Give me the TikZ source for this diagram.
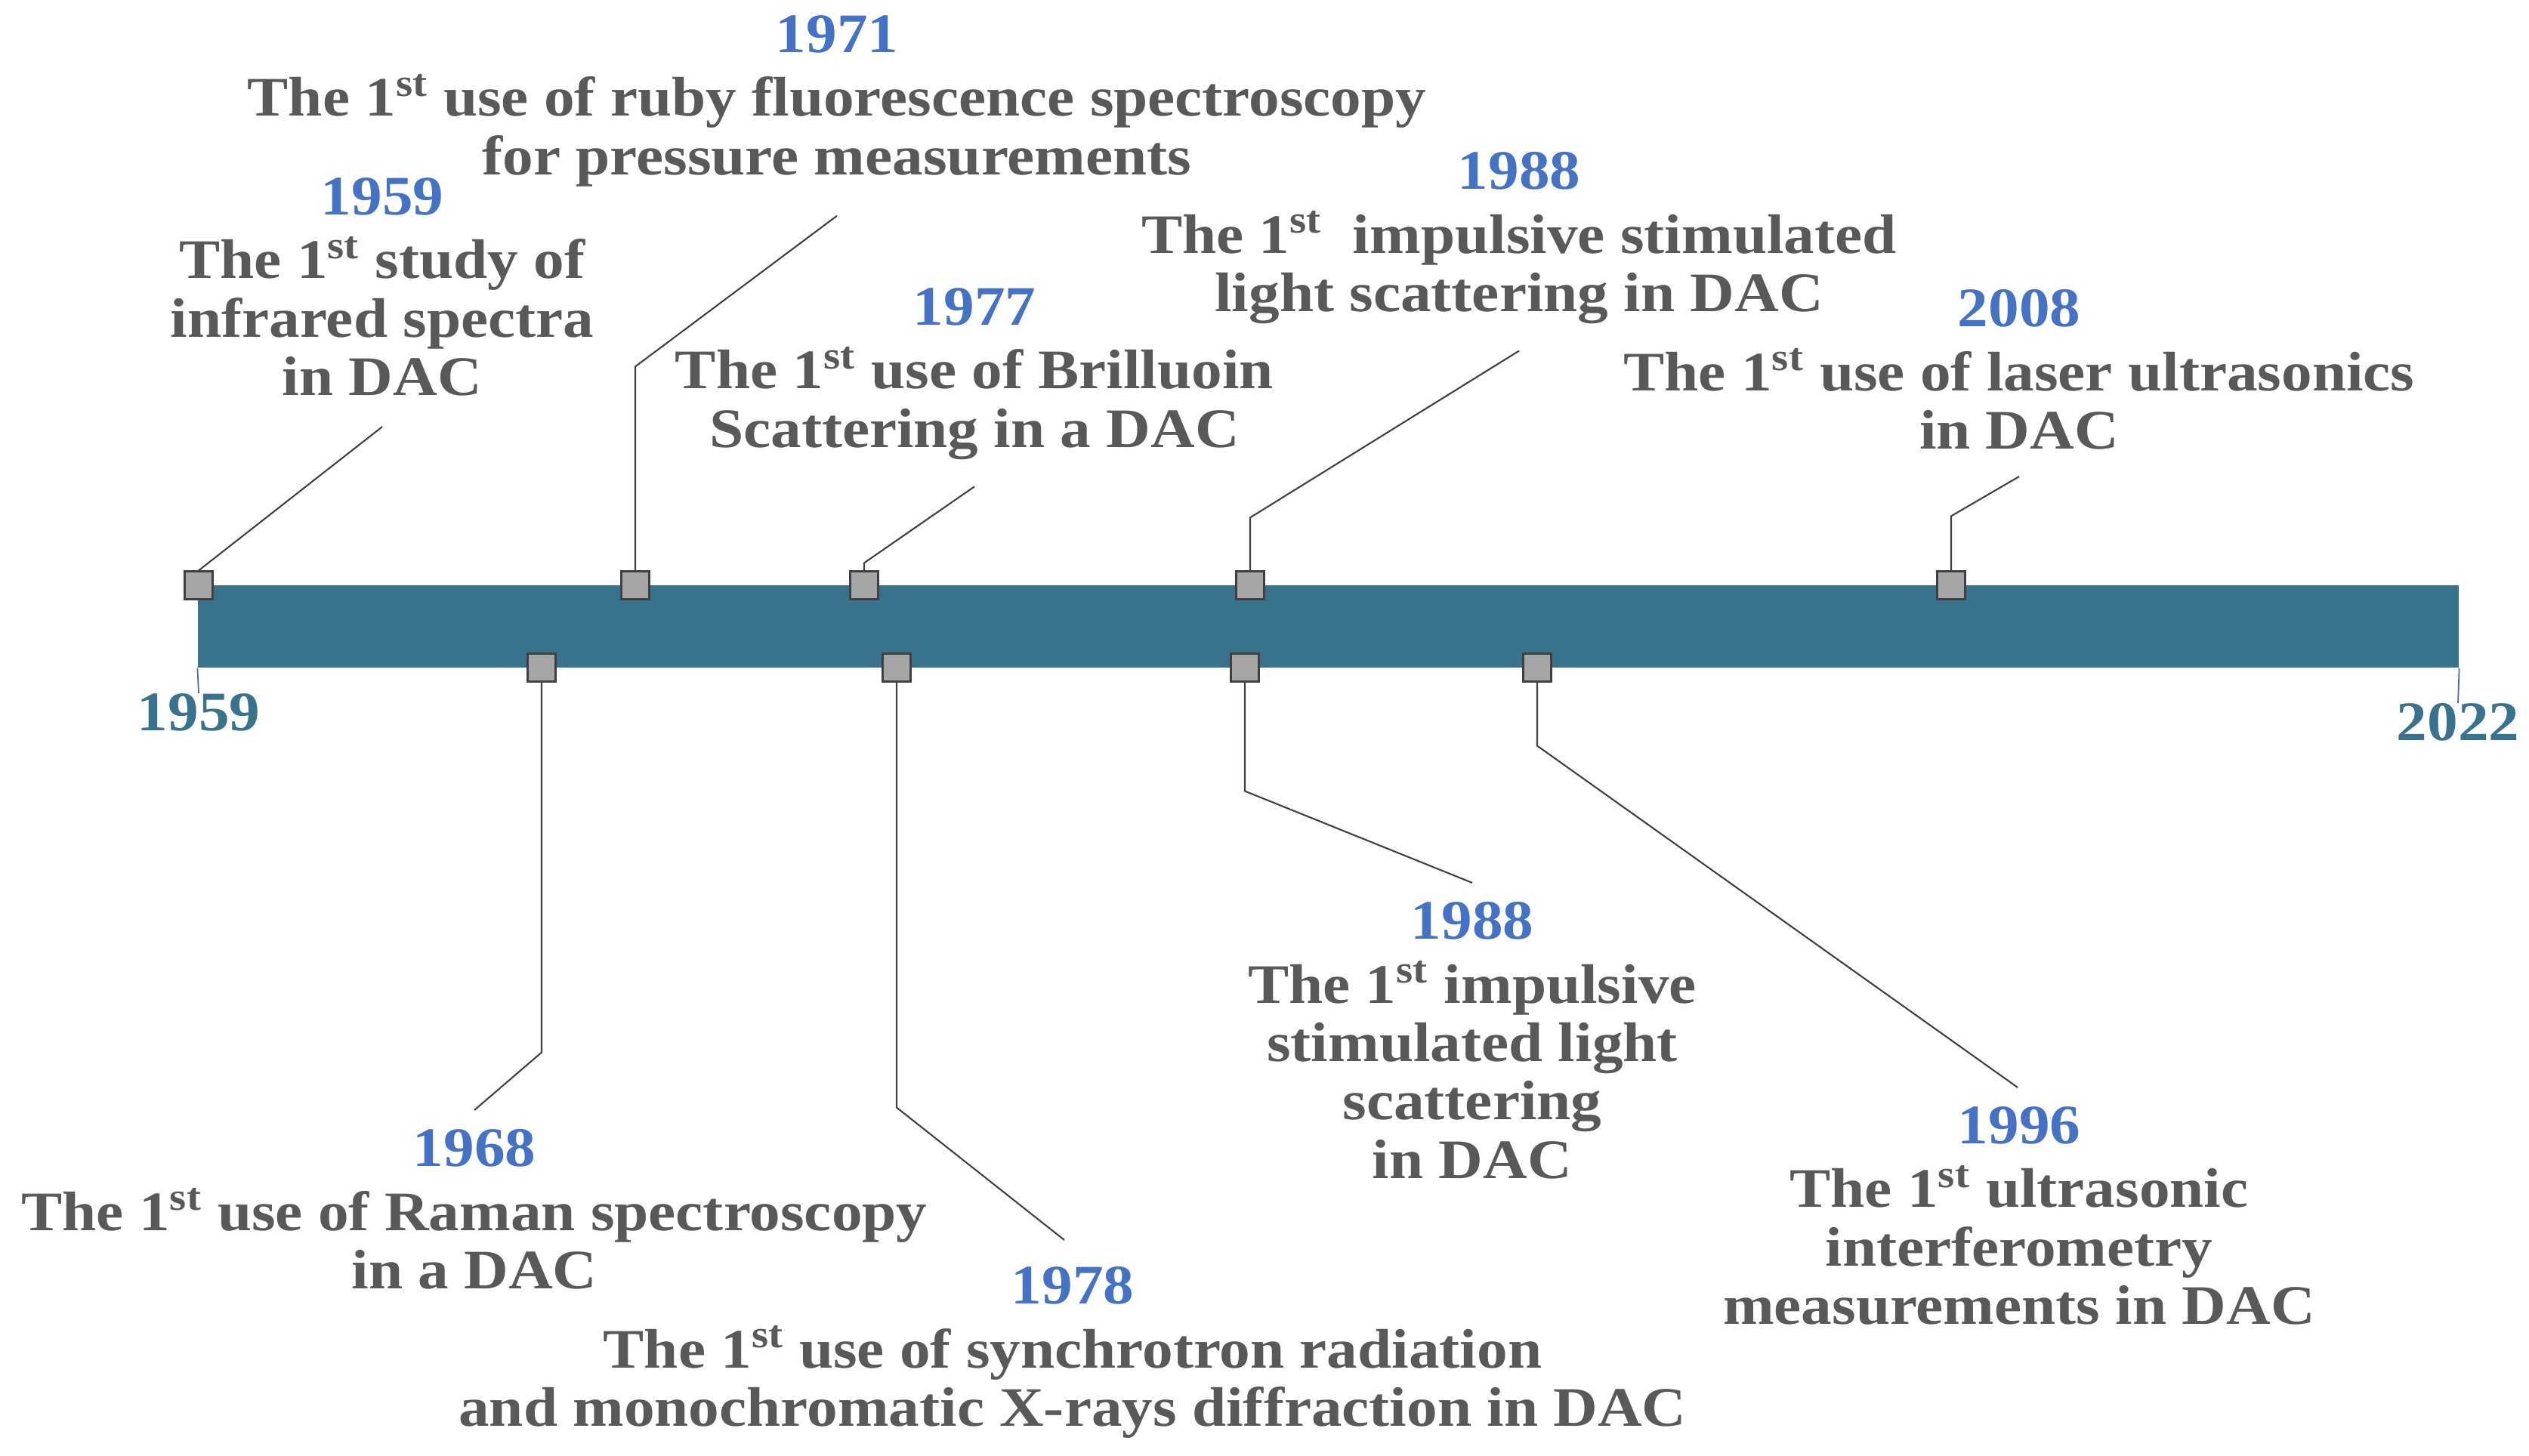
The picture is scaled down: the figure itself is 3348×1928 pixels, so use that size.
\documentclass[tikz,border=0pt]{standalone}
\usepackage{fontspec}
\setmainfont{Liberation Serif}[FakeStretch=1.1]
\usepackage{xcolor}
\usepackage{tikz}
\usetikzlibrary{calc,positioning}

\definecolor{barteal}{RGB}{56,114,140}
\definecolor{yearblue}{RGB}{68,114,196}
\definecolor{textgray}{RGB}{89,89,89}
\definecolor{markgray}{RGB}{166,166,166}
\definecolor{linegray}{RGB}{64,64,64}

\newcommand{\yr}[1]{\textcolor{yearblue}{#1}\\[2pt]}
\newcommand{\first}{1\textsuperscript{st}}

\begin{document}
\begin{tikzpicture}[
    x=0.01cm, y=0.01cm,
    font=\fontsize{21}{22}\selectfont\bfseries,
    event/.style={align=center, text=textgray, inner sep=0pt},
    evmark/.style={draw=linegray, fill=markgray, minimum size=0.37cm,
                   inner sep=0pt, line width=0.6pt},
    link/.style={draw=linegray, line width=0.6pt},
    endyear/.style={text=barteal, inner sep=0pt, anchor=north},
    ]
\useasboundingbox (0,0) rectangle (3348,1928);

% the time bar
\node[fill=barteal, minimum width=29.91cm, minimum height=1.09cm, inner sep=0pt]
     (bar) at (1758.5,1098.5) {};
\node[endyear] (y1959) at (263,1010) {1959};
\node[endyear] (y2022) at (3254,997) {2022};
\draw[barteal, line width=0.5pt] (bar.south west) -- (y1959.north);
\draw[barteal, line width=0.5pt] (bar.south east) -- (y2022.north);

% markers above the bar
\node[evmark] (m1959) at (263,1153) {};
\node[evmark] (m1971) at (841,1153) {};
\node[evmark] (m1977) at (1144,1153) {};
\node[evmark] (m1988a) at (1655,1153) {};
\node[evmark] (m2008) at (2583,1153) {};

% markers below the bar
\node[evmark] (m1968) at (717,1044) {};
\node[evmark] (m1978) at (1187,1044) {};
\node[evmark] (m1988b) at (1648,1044) {};
\node[evmark] (m1996) at (2035,1044) {};

% events above
\node[event, anchor=north] (t1959) at (506,1693)
     {\yr{1959}The \first\ study of\\infrared spectra\\in DAC};
\node[event, anchor=north] (t1971) at (1108,1908)
     {\yr{1971}The \first\ use of ruby fluorescence spectroscopy\\for pressure measurements};
\node[event, anchor=north] (t1977) at (1290,1547)
     {\yr{1977}The \first\ use of Brilluoin\\Scattering in a DAC};
\node[event, anchor=north] (t1988a) at (2011,1727)
     {\yr{1988}The \first\ \ impulsive stimulated\\light scattering in DAC};
\node[event, anchor=north] (t2008) at (2673,1545)
     {\yr{2008}The \first\ use of laser ultrasonics\\in DAC};

% events below
\node[event, anchor=north] (t1968) at (628,433)
     {\yr{1968}The \first\ use of Raman spectroscopy\\in a DAC};
\node[event, anchor=north] (t1978) at (1420,251)
     {\yr{1978}The \first\ use of synchrotron radiation\\and monochromatic X-rays diffraction in DAC};
\node[event, anchor=north] (t1988b) at (1949,734)
     {\yr{1988}The \first\ impulsive\\stimulated light\\scattering\\in DAC};
\node[event, anchor=north] (t1996) at (2673,463)
     {\yr{1996}The \first\ ultrasonic\\interferometry\\measurements in DAC};

% leader lines
\draw[link] (m1959.north) -- ($(t1959.south)+(0,-40)$);
\draw[link] (m1971.north) -- ++(0,270) -- ($(t1971.south)+(0,-38)$);
\draw[link] (m1977.north) -- ++(0,10) -- ($(t1977.south)+(0,-35)$);
\draw[link] (m1988a.north) -- ++(0,70) -- ($(t1988a.south)+(0,-35)$);
\draw[link] (m2008.north) -- ++(0,72) -- ($(t2008.south)+(0,-35)$);

\draw[link] (m1968.south) -- ++(0,-490) -- ($(t1968.north)+(0,25)$);
\draw[link] (m1978.south) -- ++(0,-563) -- ($(t1978.north)+(-11,35)$);
\draw[link] (m1988b.south) -- ++(0,-144) -- ($(t1988b.north)+(0,25)$);
\draw[link] (m1996.south) -- ++(0,-84) -- ($(t1996.north)+(-2,25)$);
\end{tikzpicture}
\end{document}
